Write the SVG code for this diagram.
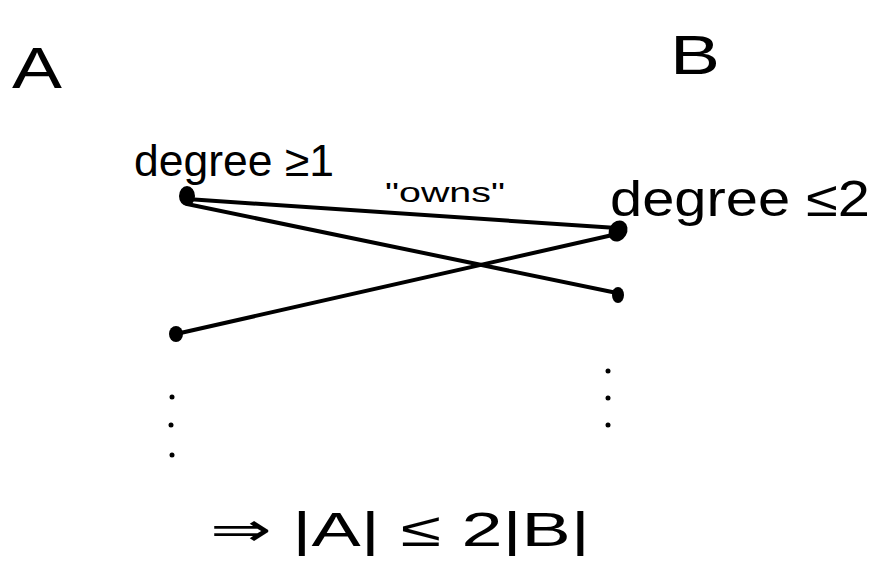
<svg xmlns="http://www.w3.org/2000/svg" width="872" height="561" viewBox="0 0 872 561">
<style>
text{font-family:"Liberation Sans","DejaVu Sans",sans-serif;fill:#000}
.edge{stroke:#000;stroke-width:4;stroke-linecap:round;fill:none}
.node{fill:#000}
.dot{fill:#000}
</style>
<rect width="872" height="561" fill="#fff"/>
<g id="labels">
<text x="12" y="88" font-size="58" textLength="50" lengthAdjust="spacingAndGlyphs">A</text>
<text x="670" y="74" font-size="56" textLength="50" lengthAdjust="spacingAndGlyphs">B</text>
<text x="134" y="176" font-size="44" textLength="200" lengthAdjust="spacingAndGlyphs">degree ≥1</text>
<text x="385" y="202" font-size="28" textLength="120" lengthAdjust="spacingAndGlyphs">"owns"</text>
<text x="610" y="216" font-size="50" textLength="260" lengthAdjust="spacingAndGlyphs">degree ≤2</text>
<text x="210" y="546" font-size="48" textLength="380" lengthAdjust="spacingAndGlyphs">⇒ |A| ≤ 2|B|</text>
</g>
<g id="connectors">
<path class="edge" d="M187,199 L617,228"/>
<path class="edge" d="M187,204 L617,293"/>
<path class="edge" d="M176,334 L617,234"/>
</g>
<g id="node-a1"><ellipse class="node" cx="187" cy="196" rx="8" ry="10"/></g>
<g id="node-a2"><ellipse class="node" cx="176" cy="334" rx="7" ry="8"/></g>
<g id="node-b1"><ellipse class="node" cx="618" cy="231" rx="9" ry="11" transform="rotate(30 618 231)"/></g>
<g id="node-b2"><ellipse class="node" cx="618" cy="295" rx="6" ry="8"/></g>
<g id="ellipsis-a">
<circle class="dot" cx="172" cy="397" r="2.5"/>
<circle class="dot" cx="171" cy="425" r="2.5"/>
<circle class="dot" cx="172" cy="455" r="2.5"/>
</g>
<g id="ellipsis-b">
<circle class="dot" cx="608" cy="371" r="2.5"/>
<circle class="dot" cx="608" cy="398" r="2.5"/>
<circle class="dot" cx="608" cy="425" r="2.5"/>
</g>
</svg>
